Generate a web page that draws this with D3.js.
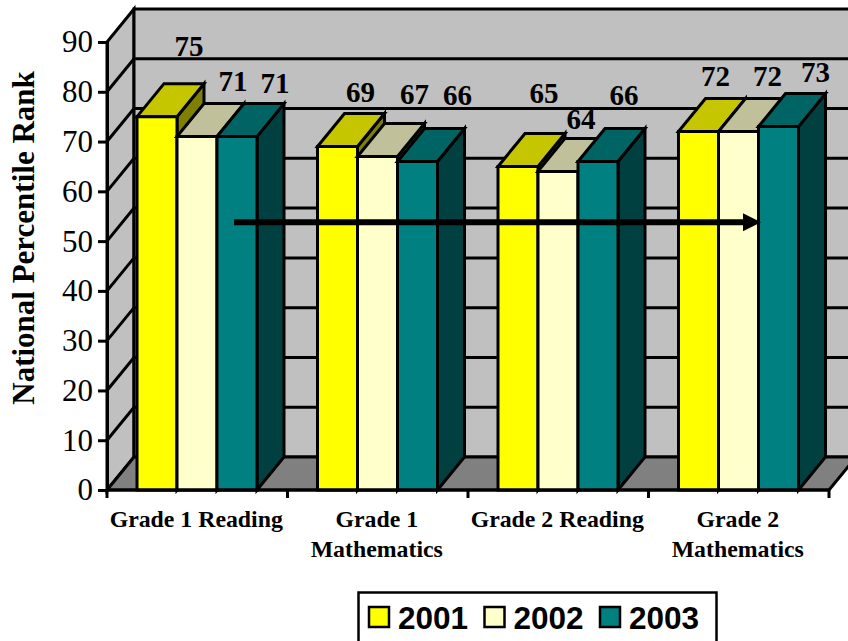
<!DOCTYPE html>
<html>
<head>
<meta charset="utf-8">
<script src="https://cdnjs.cloudflare.com/ajax/libs/d3/7.8.5/d3.min.js"></script>
<style>
html, body { margin: 0; padding: 0; background: #fff; overflow: hidden; }
svg { display: block; }
</style>
</head>
<body>
<div id="chart"></div>
<script>
const categories = [["Grade 1 Reading"], ["Grade 1", "Mathematics"], ["Grade 2 Reading"], ["Grade 2", "Mathematics"]];
const seriesNames = ["2001", "2002", "2003"];
const values2001 = [75, 69, 65, 72];
const values2002 = [71, 67, 64, 72];
const values2003 = [71, 66, 66, 73];
const yTicks = [0, 10, 20, 30, 40, 50, 60, 70, 80, 90];
const yTitle = "National Percentile Rank";

// the data labels were placed by hand in the original, so each one has its own nudge
const labelNudgeX = [[32, 36, 38], [23, 37, 40], [26, 23, 26], [17, 29, 37]];
const labelNudgeY = [[-28, -13, -11], [-12, -19, -23], [-30, -9, -23], [-13, -13, -12]];

const fronts = ["#ffff00", "#ffffcc", "#008080"];
const tops = ["#c6c600", "#c0c09a", "#006464"];
const sides = ["#808000", "#80806a", "#004040"];

const width = 848, height = 641;
const depthX = 27, depthY = -33;
const lw = 3;

const svg = d3.select("#chart").append("svg")
    .attr("width", width)
    .attr("height", height);

const x0 = d3.scaleBand().domain(d3.range(categories.length)).range([107, 829]);
const x1 = d3.scaleBand().domain(seriesNames).range([30, 150]);
const y = d3.scaleLinear().domain([0, 90]).range([490, 42]);

function poly(g, pts, fill) {
    return g.append("polygon")
        .attr("points", pts.map(p => p.join(",")).join(" "))
        .attr("fill", fill)
        .attr("stroke", "#000")
        .attr("stroke-width", lw)
        .attr("stroke-linejoin", "miter");
}

// walls and floor
const walls = svg.append("g");
const xL = x0.range()[0], xR = x0.range()[1], y0 = y(0), yT = y(90);
poly(walls, [[xL, y0], [xL + depthX, y0 + depthY], [xL + depthX, yT + depthY], [xL, yT]], "#c0c0c0");
poly(walls, [[xL + depthX, y0 + depthY], [xR + depthX, y0 + depthY], [xR + depthX, yT + depthY], [xL + depthX, yT + depthY]], "#c0c0c0");
poly(walls, [[xL, y0], [xR, y0], [xR + depthX, y0 + depthY], [xL + depthX, y0 + depthY]], "#808080");

// gridlines run along the side wall and the back wall
yTicks.slice(1, -1).forEach(t => {
    walls.append("polyline")
        .attr("points", [[xL, y(t)], [xL + depthX, y(t) + depthY], [xR + depthX, y(t) + depthY]].map(p => p.join(",")).join(" "))
        .attr("fill", "none")
        .attr("stroke", "#000")
        .attr("stroke-width", lw);
});

// bars, left to right so the nearer faces cover the tops
const allValues = [values2001, values2002, values2003];
const bars = svg.append("g");
categories.forEach((c, i) => {
    seriesNames.forEach((s, j) => {
        const left = x0(i) + x1(s), right = left + x1.bandwidth();
        const top = y(allValues[j][i]);
        poly(bars, [[right, y0], [right + depthX, y0 + depthY], [right + depthX, top + depthY], [right, top]], sides[j]);
        poly(bars, [[left, top], [right, top], [right + depthX, top + depthY], [left + depthX, top + depthY]], tops[j]);
        poly(bars, [[left, y0], [right, y0], [right, top], [left, top]], fronts[j]);
    });
});

// y axis
const yAxis = svg.append("g")
    .attr("transform", "translate(" + xL + ",0)")
    .call(d3.axisLeft(y).tickValues(yTicks).tickSize(9).tickPadding(5));
yAxis.select(".domain").attr("stroke", "#000").attr("stroke-width", lw);
yAxis.selectAll("line").attr("stroke", "#000").attr("stroke-width", lw);
yAxis.selectAll("text")
    .attr("fill", "#000")
    .style("font-family", "'Liberation Serif'")
    .style("font-size", "31px");

svg.append("text")
    .attr("transform", "translate(34,238) rotate(-90)")
    .attr("text-anchor", "middle")
    .style("font-family", "'Liberation Serif'")
    .style("font-weight", "bold")
    .style("font-size", "31px")
    .text(yTitle);

// category axis
svg.append("line")
    .attr("x1", xL).attr("x2", xR).attr("y1", y0).attr("y2", y0)
    .attr("stroke", "#000").attr("stroke-width", lw);
d3.range(categories.length + 1).forEach(i => {
    const tx = xL + i * x0.bandwidth();
    svg.append("line")
        .attr("x1", tx).attr("x2", tx).attr("y1", y0).attr("y2", y0 + 8)
        .attr("stroke", "#000").attr("stroke-width", lw);
});
categories.forEach((c, i) => {
    const t = svg.append("text")
        .attr("text-anchor", "middle")
        .style("font-family", "'Liberation Serif'")
        .style("font-weight", "bold")
        .style("font-size", "23.8px");
    c.forEach((line, k) => {
        t.append("tspan")
            .attr("x", x0(i) + x0.bandwidth() / 2 - 1)
            .attr("y", 527 + k * 30)
            .text(line);
    });
});

// data labels
seriesNames.forEach((s, j) => {
    svg.append("g").selectAll("text")
        .data(allValues[j])
        .join("text")
        .attr("x", (d, i) => x0(i) + x1(s) + x1.bandwidth() / 2 + labelNudgeX[i][j])
        .attr("y", (d, i) => y(d) + depthY + labelNudgeY[i][j])
        .attr("text-anchor", "middle")
        .style("font-family", "'Liberation Serif'")
        .style("font-weight", "bold")
        .style("font-size", "29px")
        .text(d => d);
});

// trend arrow
const arrowY = y(53.8);
svg.append("line")
    .attr("x1", 234).attr("x2", 746).attr("y1", arrowY).attr("y2", arrowY)
    .attr("stroke", "#000").attr("stroke-width", 6);
svg.append("polygon")
    .attr("points", [[743, arrowY - 9], [761, arrowY], [743, arrowY + 9]].map(p => p.join(",")).join(" "))
    .attr("fill", "#000");

// legend
const legend = svg.append("g");
legend.append("rect")
    .attr("x", 358.5).attr("y", 592.5).attr("width", 358).attr("height", 60)
    .attr("fill", "#fff").attr("stroke", "#000").attr("stroke-width", 2.5);
const legendX = d3.scalePoint().domain(seriesNames).range([369, 600]);
seriesNames.forEach((s, j) => {
    legend.append("rect")
        .attr("x", legendX(s)).attr("y", 607).attr("width", 20).attr("height", 20)
        .attr("fill", fronts[j]).attr("stroke", "#000").attr("stroke-width", 2.5);
    legend.append("text")
        .attr("x", legendX(s) + 29).attr("y", 629)
        .style("font-family", "'Liberation Sans'")
        .style("font-weight", "bold")
        .style("font-size", "31.5px")
        .text(s);
});
</script>
</body>
</html>
